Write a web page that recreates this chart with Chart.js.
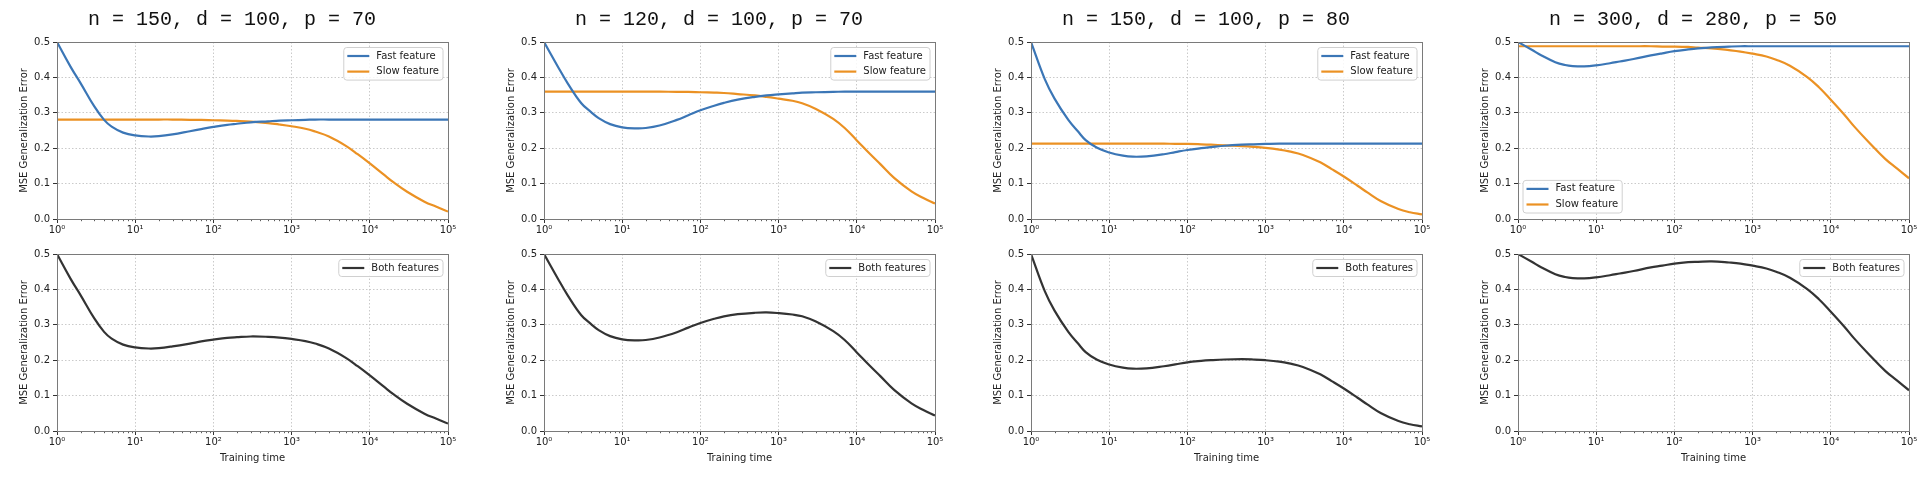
<!DOCTYPE html>
<html>
<head>
<meta charset="utf-8">
<script src="https://cdn.jsdelivr.net/npm/chart.js@4.4.0/dist/chart.umd.min.js"></script>
<style>
  body { margin: 0; background: #fff; }
  #fig { position: relative; width: 1927px; height: 479px; overflow: hidden; }
  #fig canvas { position: absolute; }
</style>
</head>
<body>
<div id="fig"></div>
<script>
// ---- data ----
const trainingTime = [1, 1.5, 2, 3, 4, 5, 7, 10, 15, 20, 30, 50, 70, 100, 150, 200, 300, 500, 700,
  1000, 1500, 2000, 3000, 5000, 7000, 10000, 15000, 20000, 30000, 50000, 70000, 100000];

const panelTitles = ['n = 150, d = 100, p = 70', 'n = 120, d = 100, p = 70',
  'n = 150, d = 100, p = 80', 'n = 300, d = 280, p = 50'];

// n = 150, d = 100, p = 70
const fast1 = [0.500, 0.429, 0.384, 0.318, 0.280, 0.261, 0.244, 0.236, 0.233, 0.234, 0.239, 0.248, 0.254, 0.260, 0.266, 0.269,
  0.273, 0.276, 0.278, 0.279, 0.280, 0.281, 0.281, 0.281, 0.281, 0.281, 0.281, 0.281, 0.281, 0.281, 0.281, 0.281];
const slow1 = [0.281, 0.281, 0.281, 0.281, 0.281, 0.281, 0.281, 0.281, 0.281, 0.281, 0.281, 0.280, 0.280, 0.279, 0.278, 0.277,
  0.275, 0.271, 0.267, 0.262, 0.255, 0.247, 0.233, 0.206, 0.183, 0.157, 0.126, 0.104, 0.077, 0.049, 0.035, 0.021];
const both1 = [0.500, 0.429, 0.384, 0.318, 0.280, 0.261, 0.244, 0.236, 0.233, 0.234, 0.239, 0.247, 0.253, 0.258, 0.263, 0.265,
  0.267, 0.266, 0.264, 0.260, 0.254, 0.247, 0.233, 0.206, 0.183, 0.157, 0.126, 0.104, 0.077, 0.049, 0.035, 0.021];

// n = 120, d = 100, p = 70
const fast2 = [0.500, 0.431, 0.384, 0.327, 0.302, 0.285, 0.268, 0.259, 0.256, 0.257, 0.264, 0.280, 0.293, 0.307, 0.320, 0.328,
  0.337, 0.345, 0.349, 0.352, 0.355, 0.357, 0.358, 0.359, 0.360, 0.360, 0.360, 0.360, 0.360, 0.360, 0.360, 0.360];
const slow2 = [0.360, 0.360, 0.360, 0.360, 0.360, 0.360, 0.360, 0.360, 0.360, 0.360, 0.360, 0.359, 0.359, 0.358, 0.357, 0.356,
  0.353, 0.349, 0.345, 0.340, 0.334, 0.327, 0.311, 0.283, 0.257, 0.222, 0.182, 0.155, 0.116, 0.078, 0.060, 0.044];
const both2 = [0.500, 0.431, 0.384, 0.327, 0.302, 0.285, 0.268, 0.259, 0.256, 0.257, 0.264, 0.279, 0.292, 0.305, 0.317, 0.324,
  0.330, 0.334, 0.335, 0.333, 0.329, 0.324, 0.309, 0.282, 0.257, 0.222, 0.182, 0.155, 0.116, 0.078, 0.060, 0.044];

// n = 150, d = 100, p = 80
const fast3 = [0.500, 0.395, 0.340, 0.280, 0.247, 0.223, 0.201, 0.188, 0.179, 0.176, 0.177, 0.183, 0.189, 0.195, 0.200, 0.203,
  0.207, 0.210, 0.211, 0.212, 0.213, 0.213, 0.213, 0.213, 0.213, 0.213, 0.213, 0.213, 0.213, 0.213, 0.213, 0.213];
const slow3 = [0.213, 0.213, 0.213, 0.213, 0.213, 0.213, 0.213, 0.213, 0.213, 0.213, 0.213, 0.213, 0.212, 0.212, 0.211, 0.210,
  0.208, 0.206, 0.204, 0.201, 0.196, 0.191, 0.181, 0.160, 0.141, 0.120, 0.094, 0.075, 0.050, 0.028, 0.019, 0.013];
const both3 = [0.500, 0.395, 0.340, 0.280, 0.247, 0.223, 0.201, 0.188, 0.179, 0.176, 0.177, 0.183, 0.188, 0.194, 0.198, 0.200,
  0.202, 0.203, 0.202, 0.200, 0.196, 0.191, 0.181, 0.160, 0.141, 0.120, 0.094, 0.075, 0.050, 0.028, 0.019, 0.013];

// n = 300, d = 280, p = 50
const fast4 = [0.500, 0.478, 0.462, 0.443, 0.435, 0.432, 0.431, 0.434, 0.440, 0.445, 0.452, 0.462, 0.468, 0.474, 0.479, 0.482,
  0.485, 0.487, 0.488, 0.488, 0.488, 0.488, 0.488, 0.488, 0.488, 0.488, 0.488, 0.488, 0.488, 0.488, 0.488, 0.488];
const slow4 = [0.488, 0.488, 0.488, 0.488, 0.488, 0.488, 0.488, 0.488, 0.488, 0.488, 0.488, 0.488, 0.487, 0.487, 0.486, 0.484,
  0.482, 0.477, 0.473, 0.467, 0.459, 0.450, 0.433, 0.401, 0.373, 0.337, 0.294, 0.261, 0.219, 0.169, 0.143, 0.115];
const both4 = [0.500, 0.478, 0.462, 0.443, 0.435, 0.432, 0.431, 0.434, 0.440, 0.445, 0.452, 0.462, 0.467, 0.473, 0.477, 0.478,
  0.479, 0.476, 0.473, 0.467, 0.459, 0.450, 0.433, 0.401, 0.373, 0.337, 0.294, 0.261, 0.219, 0.169, 0.143, 0.115];

const fastSeries = [fast1, fast2, fast3, fast4];
const slowSeries = [slow1, slow2, slow3, slow4];
const bothSeries = [both1, both2, both3, both4];
const legendCorners = ['ur', 'ur', 'ur', 'll'];

const xTickValues = [1, 10, 100, 1000, 10000, 100000];
const xTickLabels = ['10⁰', '10¹', '10²', '10³', '10⁴', '10⁵'];
const yTickValues = [0, 0.1, 0.2, 0.3, 0.4, 0.5];

// ---- layout ----
const plotLefts = [57, 544, 1031, 1518];
const PLOT_W = 391;
const Y_AXIS_W = 41;
const PAD_R = 10;
const FONT = '"DejaVu Sans", sans-serif';

Chart.defaults.font.family = FONT;
Chart.defaults.font.size = 10;
Chart.defaults.color = '#222';

// box around the axes, minor log ticks and a matplotlib-like legend
const framePlugin = {
  id: 'frame',
  afterDraw(chart, args, opts) {
    const { ctx, chartArea: a } = chart;
    const xs = chart.scales.x;
    ctx.save();

    ctx.strokeStyle = '#333';
    ctx.lineWidth = 0.8;
    ctx.beginPath();
    for (let k = 0; k < 5; k++) {
      for (let m = 2; m <= 9; m++) {
        const px = Math.round(xs.getPixelForValue(m * Math.pow(10, k))) + 0.5;
        ctx.moveTo(px, a.bottom);
        ctx.lineTo(px, a.bottom + 2.2);
      }
    }
    ctx.stroke();

    ctx.strokeStyle = '#7a7a7a';
    ctx.lineWidth = 1;
    ctx.strokeRect(Math.round(a.left) + 0.5, Math.round(a.top) + 0.5,
      Math.round(a.right - a.left), Math.round(a.bottom - a.top));

    // legend
    const items = chart.data.datasets;
    ctx.font = '10px ' + FONT;
    const rowH = 15.6, padV = 8.5;
    const textW = Math.max(...items.map(d => ctx.measureText(d.label).width));
    const w = 3.5 + 22 + 7 + textW + 4;
    const h = padV * 2 + rowH * (items.length - 1);
    let bx, by;
    if (opts.corner === 'll') {
      bx = a.left + 5;
      by = a.bottom - 6 - h;
    } else {
      bx = a.right - 5 - w;
      by = a.top + 5.5;
    }
    ctx.beginPath();
    if (ctx.roundRect) ctx.roundRect(bx, by, w, h, 3); else ctx.rect(bx, by, w, h);
    ctx.fillStyle = 'rgba(255,255,255,0.85)';
    ctx.fill();
    ctx.strokeStyle = '#d0d0d0';
    ctx.lineWidth = 1;
    ctx.stroke();

    items.forEach((d, i) => {
      const cy = by + padV + i * rowH;
      ctx.beginPath();
      ctx.strokeStyle = d.borderColor;
      ctx.lineWidth = d.borderWidth;
      ctx.moveTo(bx + 3.5, cy);
      ctx.lineTo(bx + 25.5, cy);
      ctx.stroke();
      ctx.fillStyle = '#222';
      ctx.textBaseline = 'middle';
      ctx.textAlign = 'left';
      ctx.fillText(d.label, bx + 32.5, cy);
    });
    ctx.restore();
  }
};

function series(label, values, color) {
  return {
    label: label,
    data: trainingTime.map((t, i) => ({ x: t, y: values[i] })),
    borderColor: color,
    backgroundColor: color,
    borderWidth: 2.2,
    pointRadius: 0,
    tension: 0.4
  };
}

function buildChart(cfg) {
  const canvas = document.createElement('canvas');
  canvas.width = Y_AXIS_W + PLOT_W + PAD_R;
  canvas.height = cfg.height;
  canvas.style.left = (cfg.plotLeft - Y_AXIS_W) + 'px';
  canvas.style.top = cfg.top + 'px';
  document.getElementById('fig').appendChild(canvas);

  const gridLine = {
    color: '#bdbdbd',
    lineWidth: 0.8,
    tickColor: '#333',
    tickLength: 4,
    tickWidth: 1
  };
  const border = { color: '#7a7a7a', width: 1, dash: [1.5, 2] };

  return new Chart(canvas, {
    type: 'line',
    data: { datasets: cfg.datasets },
    options: {
      responsive: false,
      animation: false,
      events: [],
      layout: { padding: { left: 0, right: PAD_R, top: cfg.padTop, bottom: 0 } },
      plugins: {
        legend: { display: false },
        tooltip: { enabled: false },
        title: cfg.title ? {
          display: true,
          text: cfg.title,
          color: '#111',
          font: { family: '"Courier New", "Liberation Mono", monospace', size: 20, weight: 'normal' },
          padding: { top: 8, bottom: 10 }
        } : { display: false },
        frame: { corner: cfg.corner }
      },
      scales: {
        x: {
          type: 'logarithmic',
          min: 1,
          max: 100000,
          afterBuildTicks: s => { s.ticks = xTickValues.map(v => ({ value: v })); },
          afterFit: s => { s.height = cfg.xHeight; },
          ticks: {
            autoSkip: false,
            maxRotation: 0,
            padding: 1,
            callback: (v, i) => xTickLabels[i]
          },
          grid: gridLine,
          border: border,
          title: cfg.xTitle ? {
            display: true,
            text: 'Training time',
            padding: { top: 0, bottom: 15 }
          } : { display: false }
        },
        y: {
          type: 'linear',
          min: 0,
          max: 0.5,
          afterBuildTicks: s => { s.ticks = yTickValues.map(v => ({ value: v })); },
          afterFit: s => { s.width = Y_AXIS_W; },
          ticks: {
            padding: 3,
            callback: v => v.toFixed(1)
          },
          grid: gridLine,
          border: border,
          title: {
            display: true,
            text: 'MSE Generalization Error',
            padding: { top: 2, bottom: 0 }
          }
        }
      }
    },
    plugins: [framePlugin]
  });
}

for (let p = 0; p < 4; p++) {
  buildChart({
    plotLeft: plotLefts[p],
    top: 0,
    height: 240,
    padTop: 0,
    xHeight: 21,
    title: panelTitles[p],
    xTitle: false,
    corner: legendCorners[p],
    datasets: [
      series('Fast feature', fastSeries[p], '#3b76b6'),
      series('Slow feature', slowSeries[p], '#eb9123')
    ]
  });
  buildChart({
    plotLeft: plotLefts[p],
    top: 240,
    height: 239,
    padTop: 14,
    xHeight: 48,
    title: null,
    xTitle: true,
    corner: 'ur',
    datasets: [series('Both features', bothSeries[p], '#333333')]
  });
}
</script>
</body>
</html>
